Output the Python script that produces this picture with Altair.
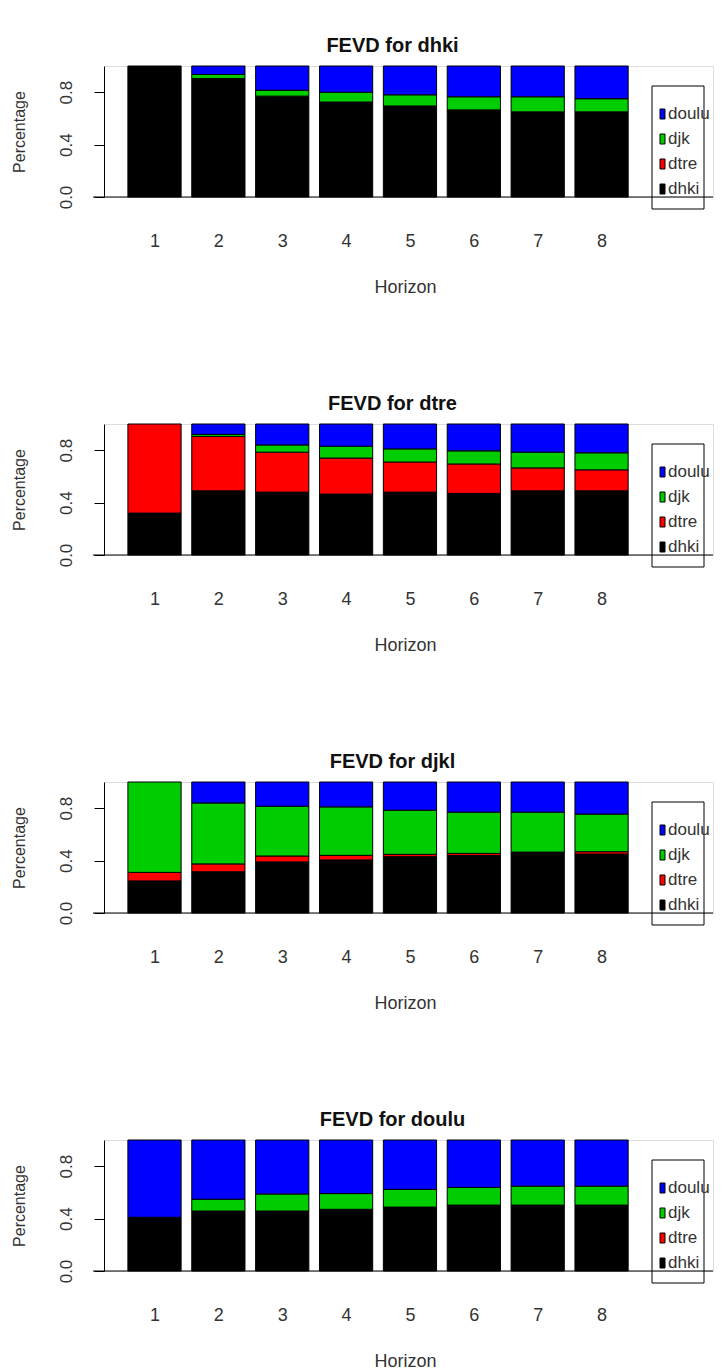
import altair as alt
import pandas as pd

# ---------------- data ----------------
horizons = [1, 2, 3, 4, 5, 6, 7, 8]
series_names = ["dhki", "dtre", "djk", "doulu"]
series_colors = ["#000000", "#FF0000", "#00CD00", "#0000FF"]
legend_names = ["doulu", "djk", "dtre", "dhki"]
panel_titles = ["FEVD for dhki", "FEVD for dtre", "FEVD for djkl", "FEVD for doulu"]

# FEVD for dhki
p1_dhki = [1.000, 0.900, 0.765, 0.720, 0.690, 0.660, 0.645, 0.645]
p1_dtre = [0.000, 0.005, 0.005, 0.005, 0.005, 0.005, 0.005, 0.005]
p1_djk = [0.000, 0.030, 0.045, 0.075, 0.085, 0.100, 0.115, 0.100]
p1_doulu = [0.000, 0.065, 0.185, 0.200, 0.220, 0.235, 0.235, 0.250]

# FEVD for dtre
p2_dhki = [0.320, 0.490, 0.480, 0.465, 0.480, 0.470, 0.490, 0.490]
p2_dtre = [0.680, 0.415, 0.305, 0.275, 0.230, 0.225, 0.175, 0.160]
p2_djk = [0.000, 0.015, 0.055, 0.090, 0.100, 0.100, 0.120, 0.130]
p2_doulu = [0.000, 0.080, 0.160, 0.170, 0.190, 0.205, 0.215, 0.220]

# FEVD for djkl
p3_dhki = [0.245, 0.315, 0.390, 0.405, 0.430, 0.440, 0.460, 0.450]
p3_dtre = [0.065, 0.060, 0.045, 0.035, 0.018, 0.015, 0.005, 0.018]
p3_djk = [0.690, 0.465, 0.380, 0.370, 0.337, 0.315, 0.305, 0.287]
p3_doulu = [0.000, 0.160, 0.185, 0.190, 0.215, 0.230, 0.230, 0.245]

# FEVD for doulu
p4_dhki = [0.410, 0.455, 0.455, 0.468, 0.485, 0.500, 0.500, 0.500]
p4_dtre = [0.000, 0.003, 0.003, 0.003, 0.003, 0.003, 0.003, 0.003]
p4_djk = [0.000, 0.090, 0.130, 0.120, 0.135, 0.135, 0.145, 0.145]
p4_doulu = [0.590, 0.452, 0.412, 0.409, 0.377, 0.362, 0.352, 0.352]

panel_values = [
    [p1_dhki, p1_dtre, p1_djk, p1_doulu],
    [p2_dhki, p2_dtre, p2_djk, p2_doulu],
    [p3_dhki, p3_dtre, p3_djk, p3_doulu],
    [p4_dhki, p4_dtre, p4_djk, p4_doulu],
]

# ---------------- layout ----------------
W = 609
H = 131
XMIN, XMAX = -0.249, 11.194
FONT = "Liberation Sans, Arial, sans-serif"
TXT = "#333333"

tick_pos = [0.7 + 1.2 * (h - 1) for h in horizons]


def make_panel(title, values):
    rows = []
    for i, h in enumerate(horizons):
        for k, s in enumerate(series_names):
            rows.append({"horizon": h, "series": s, "order": k, "share": values[k][i]})
    df = pd.DataFrame(rows)

    bars = (
        alt.Chart(df)
        .transform_stack(
            stack="share",
            groupby=["horizon"],
            as_=["y0", "y1"],
            sort=[alt.SortField("order", order="ascending")],
        )
        .transform_filter("datum.share > 0")
        .transform_calculate(
            xs="0.2 + (datum.horizon - 1) * 1.2",
            xe="1.2 + (datum.horizon - 1) * 1.2",
        )
        .mark_bar(stroke="black", strokeWidth=1)
        .encode(
            x=alt.X(
                "xs:Q",
                scale=alt.Scale(domain=[XMIN, XMAX], nice=False, zero=False),
                axis=alt.Axis(
                    values=tick_pos,
                    labelExpr="format(round((datum.value - 0.7) / 1.2) + 1, 'd')",
                    domain=False,
                    ticks=False,
                    grid=False,
                    labelPadding=35,
                    labelFontSize=18,
                    labelColor=TXT,
                    labelFont=FONT,
                    title="Horizon",
                    titleFontSize=18,
                    titleFontWeight="normal",
                    titleColor=TXT,
                    titleFont=FONT,
                    titlePadding=28,
                    titleX=301,
                ),
            ),
            x2="xe:Q",
            y=alt.Y(
                "y0:Q",
                scale=alt.Scale(domain=[0, 1], nice=False),
                axis=alt.Axis(
                    values=[0, 0.2, 0.4, 0.6, 0.8, 1.0],
                    labelExpr="datum.value < 0.01 ? '0.0' : (abs(datum.value - 0.4) < 0.01 ? '0.4' : (abs(datum.value - 0.8) < 0.01 ? '0.8' : ''))",
                    labelAngle=270,
                    labelAlign="center",
                    labelBaseline="alphabetic",
                    labelPadding=23,
                    labelFontSize=17,
                    labelColor=TXT,
                    labelFont=FONT,
                    tickSize=10,
                    tickColor="black",
                    domainColor="black",
                    grid=False,
                    title="Percentage",
                    titleFontSize=16,
                    titleFontWeight="normal",
                    titleColor=TXT,
                    titleFont=FONT,
                    titlePadding=30,
                ),
            ),
            y2="y1:Q",
            color=alt.Color(
                "series:N",
                scale=alt.Scale(domain=series_names, range=series_colors),
                legend=None,
            ),
        )
    )

    one = pd.DataFrame({"y": [0]})
    baseline = (
        alt.Chart(one)
        .mark_rule(color="black", strokeWidth=1)
        .encode(y="y:Q", x=alt.value(-11), x2=alt.value(W))
    )

    box = (
        alt.Chart(one)
        .mark_rect(fillOpacity=0, stroke="black", strokeWidth=1)
        .encode(x=alt.value(548), x2=alt.value(600), y=alt.value(20), y2=alt.value(143))
    )

    layers = [bars, baseline, box]
    for j, name in enumerate(legend_names):
        col = series_colors[series_names.index(name)]
        yc = 48 + 25 * j
        layers.append(
            alt.Chart(one)
            .mark_rect(fill=col, stroke="black", strokeWidth=1)
            .encode(x=alt.value(556), x2=alt.value(561), y=alt.value(yc - 5), y2=alt.value(yc + 5))
        )
        layers.append(
            alt.Chart(one)
            .mark_text(align="left", baseline="middle", fontSize=17, font=FONT, color=TXT)
            .encode(x=alt.value(564), y=alt.value(yc), text=alt.value(name))
        )

    return alt.layer(*layers).properties(
        width=W,
        height=H,
        title=alt.TitleParams(
            title,
            fontSize=20,
            fontWeight="bold",
            font=FONT,
            color="#111111",
            anchor="middle",
            offset=10,
            dx=-16,
        ),
    )


panels = [make_panel(t, v) for t, v in zip(panel_titles, panel_values)]

chart = (
    alt.vconcat(*panels, spacing=96)
    .properties(padding={"left": 10, "top": 35, "right": 5, "bottom": 0})
    .configure_view(stroke=None)
    .configure(background="white")
)

chart.save("out.html", embed_options={"renderer": "svg", "actions": False})
